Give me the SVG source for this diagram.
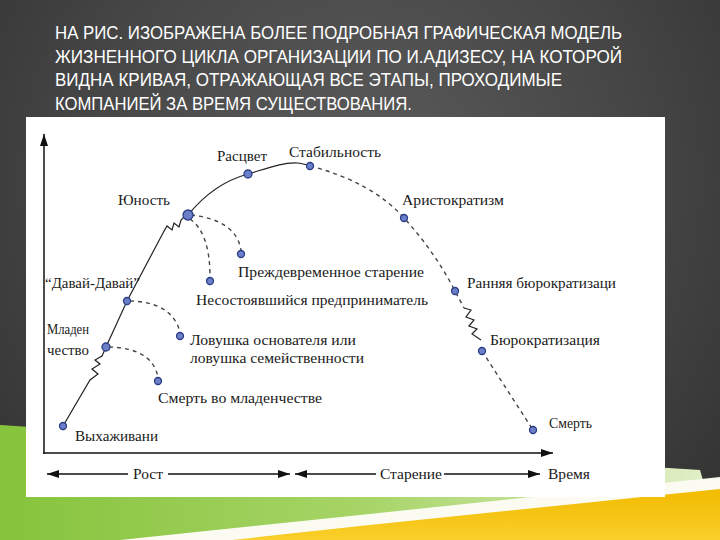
<svg xmlns="http://www.w3.org/2000/svg" width="720" height="540" viewBox="0 0 720 540">
<defs>
  <radialGradient id="bg" cx="360" cy="180" r="480" gradientUnits="userSpaceOnUse">
    <stop offset="0" stop-color="#5c5c5c"/>
    <stop offset="0.6" stop-color="#454545"/>
    <stop offset="1" stop-color="#333333"/>
  </radialGradient>
  <linearGradient id="green" x1="0" y1="0" x2="1" y2="0">
    <stop offset="0" stop-color="#86c43c"/>
    <stop offset="0.5" stop-color="#a6d466"/>
    <stop offset="1" stop-color="#e4f0cc"/>
  </linearGradient>
  <linearGradient id="yellow" x1="0" y1="0" x2="0" y2="1">
    <stop offset="0" stop-color="#f2bb00"/>
    <stop offset="1" stop-color="#f9cf2a"/>
  </linearGradient>
  <marker id="ah" viewBox="0 0 12 8" refX="12" refY="4" markerWidth="12" markerHeight="8" markerUnits="userSpaceOnUse" orient="auto-start-reverse">
    <path d="M0,0 L12,4 L0,8 Z" fill="#111"/>
  </marker>
  <style>
    .title { font-family: "Liberation Sans", "DejaVu Sans", sans-serif; font-size: 19px; fill: #ffffff; }
    .lbl { font-family: "Liberation Serif", "DejaVu Serif", serif; font-size: 15px; fill: #1a1a1a; }
    .dot { fill: #6b80c9; stroke: #2b3c86; stroke-width: 1.3; }
    .solid { fill: none; stroke: #222; stroke-width: 1.2; }
    .dash { fill: none; stroke: #444; stroke-width: 1.4; stroke-dasharray: 4 4; }
    .axis { fill: none; stroke: #111; stroke-width: 1.5; }
  </style>
</defs>

<!-- background -->
<rect x="0" y="0" width="720" height="540" fill="url(#bg)"/>
<path d="M0,425 L700,470 L720,540 L0,540 Z" fill="url(#green)"/>
<path d="M120,540 L360,515 L720,477 L720,540 Z" fill="#fbfbf2"/>
<path d="M232,540 L360,526 L720,489 L720,540 Z" fill="url(#yellow)"/>

<!-- title -->
<g id="title">
  <text class="title" x="55" y="39" textLength="567" lengthAdjust="spacingAndGlyphs">НА РИС. ИЗОБРАЖЕНА БОЛЕЕ ПОДРОБНАЯ ГРАФИЧЕСКАЯ МОДЕЛЬ</text>
  <text class="title" x="55" y="63" textLength="567" lengthAdjust="spacingAndGlyphs">ЖИЗНЕННОГО ЦИКЛА ОРГАНИЗАЦИИ ПО И.АДИЗЕСУ, НА КОТОРОЙ</text>
  <text class="title" x="55" y="86" textLength="507" lengthAdjust="spacingAndGlyphs">ВИДНА КРИВАЯ, ОТРАЖАЮЩАЯ ВСЕ ЭТАПЫ, ПРОХОДИМЫЕ</text>
  <text class="title" x="55" y="110" textLength="357" lengthAdjust="spacingAndGlyphs">КОМПАНИЕЙ ЗА ВРЕМЯ СУЩЕСТВОВАНИЯ.</text>
</g>

<!-- picture panel -->
<rect x="26" y="117" width="639" height="380" fill="#ffffff"/>

<!-- axes -->
<g id="axes">
  <path class="axis" d="M44,454 L44,134" marker-end="url(#ah)"/>
  <path class="axis" d="M43,453 L553,453" marker-end="url(#ah)"/>
  <path class="axis" d="M47,474 L128,474" marker-start="url(#ah)"/>
  <path class="axis" d="M168,474 L290,474" marker-end="url(#ah)"/>
  <path class="axis" d="M295,474 L376,474" marker-start="url(#ah)"/>
  <path class="axis" d="M444,474 L540,474" marker-end="url(#ah)"/>
  <text class="lbl" x="133" y="479" textLength="30" lengthAdjust="spacingAndGlyphs">Рост</text>
  <text class="lbl" x="380" y="479" textLength="62" lengthAdjust="spacingAndGlyphs">Старение</text>
  <text class="lbl" x="548" y="479" textLength="42" lengthAdjust="spacingAndGlyphs">Время</text>
</g>

<!-- connectors -->
<g id="connectors">
  <path class="solid" d="M63,426 L90,380 L98,374 L92,369 L100,364 L95,360 L102,356 L106,347 L127,301 L163,233 L167,226 L172,230 L174,223 L179,227 L181,220 L184,217 L188,215"/>
  <path class="solid" d="M188,215 C205,194 226,180 248,174 C268,168 283,162 298,163 C304,164 308,165 310,166"/>
  <path class="dash" d="M310,166 Q372,182 404,218 Q435,252 455,291 L464,308"/>
  <path class="solid" d="M464,308 L471,310 L466,317 L474,320 L469,326 L477,329 L472,334 L481,340"/>
  <path class="dash" d="M482,351 L533,430"/>
  <path class="dash" d="M191,215 Q236,220 241,250"/>
  <path class="dash" d="M190,219 Q210,233 210,277"/>
  <path class="dash" d="M130,301 Q172,302 180,332"/>
  <path class="dash" d="M109,347 Q152,348 158,377"/>
</g>

<!-- nodes -->
<g id="n-vyhazhivanie">
  <circle class="dot" cx="63" cy="426" r="3.5"/>
  <text class="lbl" x="75" y="441" textLength="83" lengthAdjust="spacingAndGlyphs">Выхаживани</text>
</g>
<g id="n-mladenchestvo">
  <circle class="dot" cx="106" cy="347" r="4"/>
  <text class="lbl" x="47" y="334" textLength="42" lengthAdjust="spacingAndGlyphs">Младен</text>
  <text class="lbl" x="47" y="355" textLength="42" lengthAdjust="spacingAndGlyphs">чество</text>
</g>
<g id="n-davai">
  <circle class="dot" cx="127" cy="301" r="3.5"/>
  <text class="lbl" x="45" y="288" textLength="95" lengthAdjust="spacingAndGlyphs">“Давай-Давай”</text>
</g>
<g id="n-yunost">
  <circle class="dot" cx="188" cy="215" r="5"/>
  <text class="lbl" x="118" y="205" textLength="52" lengthAdjust="spacingAndGlyphs">Юность</text>
</g>
<g id="n-rascvet">
  <circle class="dot" cx="248" cy="174" r="4"/>
  <text class="lbl" x="217" y="161" textLength="50" lengthAdjust="spacingAndGlyphs">Расцвет</text>
</g>
<g id="n-stabilnost">
  <circle class="dot" cx="310" cy="166" r="3.5"/>
  <text class="lbl" x="289" y="157" textLength="92" lengthAdjust="spacingAndGlyphs">Стабильность</text>
</g>
<g id="n-aristokratizm">
  <circle class="dot" cx="404" cy="218" r="3.5"/>
  <text class="lbl" x="402" y="205" textLength="102" lengthAdjust="spacingAndGlyphs">Аристократизм</text>
</g>
<g id="n-rannyaya">
  <circle class="dot" cx="455" cy="291" r="3.5"/>
  <text class="lbl" x="467" y="288" textLength="149" lengthAdjust="spacingAndGlyphs">Ранняя бюрократизаци</text>
</g>
<g id="n-byurokratizaciya">
  <circle class="dot" cx="482" cy="351" r="3.5"/>
  <text class="lbl" x="490" y="345" textLength="110" lengthAdjust="spacingAndGlyphs">Бюрократизация</text>
</g>
<g id="n-smert">
  <circle class="dot" cx="533" cy="430" r="3.5"/>
  <text class="lbl" x="549" y="428" textLength="43" lengthAdjust="spacingAndGlyphs">Смерть</text>
</g>
<g id="n-prezhdevremennoe">
  <circle class="dot" cx="241" cy="254" r="3.5"/>
  <text class="lbl" x="238" y="277" textLength="186" lengthAdjust="spacingAndGlyphs">Преждевременное старение</text>
</g>
<g id="n-nesostoyavshiysya">
  <circle class="dot" cx="210" cy="281" r="3.5"/>
  <text class="lbl" x="196" y="305" textLength="232" lengthAdjust="spacingAndGlyphs">Несостоявшийся предприниматель</text>
</g>
<g id="n-lovushka">
  <circle class="dot" cx="180" cy="336" r="3.5"/>
  <text class="lbl" x="190" y="345" textLength="166" lengthAdjust="spacingAndGlyphs">Ловушка основателя или</text>
  <text class="lbl" x="190" y="363" textLength="174" lengthAdjust="spacingAndGlyphs">ловушка семейственности</text>
</g>
<g id="n-smert-mlad">
  <circle class="dot" cx="158" cy="381" r="3.5"/>
  <text class="lbl" x="158" y="403" textLength="164" lengthAdjust="spacingAndGlyphs">Смерть во младенчестве</text>
</g>
</svg>
